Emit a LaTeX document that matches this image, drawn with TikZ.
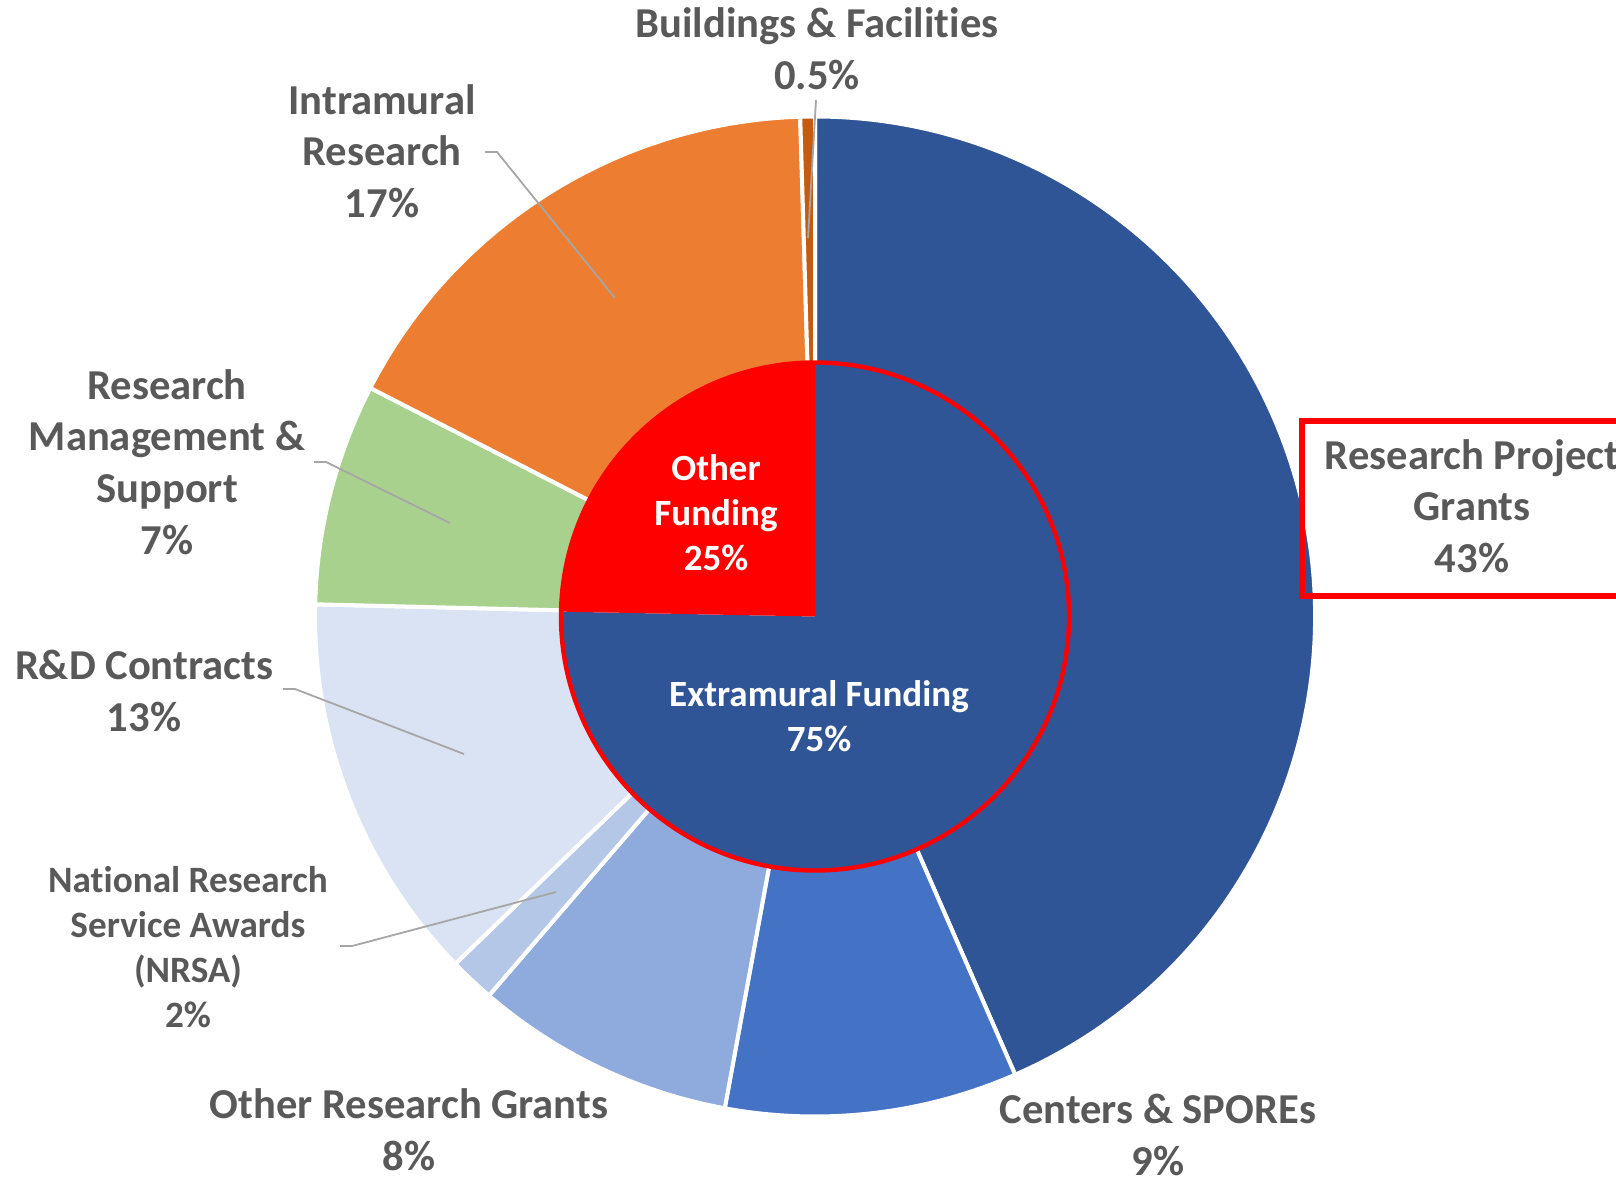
\documentclass[tikz,border=0pt]{standalone}
\usepackage{fontspec}
\setmainfont{Carlito}[Ligatures=NoCommon]
\definecolor{cRPG}{HTML}{2F5597}
\definecolor{cCen}{HTML}{4472C4}
\definecolor{cORG}{HTML}{8FAADC}
\definecolor{cNRSA}{HTML}{B4C7E7}
\definecolor{cRD}{HTML}{DAE3F3}
\definecolor{cRMS}{HTML}{A9D18E}
\definecolor{cIntra}{HTML}{ED7D31}
\definecolor{cBF}{HTML}{C55A11}
\definecolor{cOther}{HTML}{FF0000}
\definecolor{labelgray}{HTML}{595959}
\definecolor{leadgray}{HTML}{A6A6A6}
\newcommand\sunslice[4]{\fill[#1,draw=white,line width=2pt,line join=round,shift={(O)}] (0,0) -- (#2:#4) arc[start angle=#2,end angle=#3,radius=#4] -- cycle;}
\newcommand\corewedge[3]{\fill[#1,shift={(O)}] (0,0) -- (#2:254) arc[start angle=#2,end angle=#3,radius=254] -- cycle;}
\begin{document}
\begin{tikzpicture}[x=0.5pt,y=0.5pt,
  lbl/.style={text=labelgray,font=\bfseries\fontsize{21.3}{25.8}\selectfont,align=center,inner sep=0pt},
  smalllbl/.style={text=labelgray,font=\bfseries\fontsize{18.6}{22.6}\selectfont,align=center,inner sep=0pt},
  innerlbl/.style={text=white,font=\bfseries\fontsize{18.5}{22.5}\selectfont,align=center,inner sep=0pt},
  leader/.style={draw=leadgray,line width=0.9pt},
  hilite/.style={draw=cOther,line width=3pt}]
\useasboundingbox (0,0) rectangle (1616,-1177);
\coordinate (O) at (815,-616.5);
% outer ring
\sunslice{cRPG}{-66.4}{90}{500}
\sunslice{cCen}{-100.4}{-66.4}{500}
\sunslice{cORG}{-130.7}{-100.4}{500}
\sunslice{cNRSA}{-136.0}{-130.7}{500}
\sunslice{cRD}{178.6}{224.0}{500}
\sunslice{cRMS}{152.8}{178.6}{500}
\sunslice{cIntra}{91.7}{152.8}{500}
\sunslice{cBF}{90}{91.7}{500}
% inner pie
\corewedge{cRPG}{-181.1}{90}
\corewedge{cOther}{90}{178.9}
\draw[cOther,line width=2.2pt] (O) circle[radius=254];
% labels
\node[lbl] (tBF) at (817,-49) {Buildings \& Facilities\\0.5\%};
\node[lbl] (tIntra) at (382,-151) {Intramural\\Research\\17\%};
\node[lbl] (tRMS) at (167,-462) {Research\\Management \&\\Support\\7\%};
\node[lbl] (tRD) at (144,-691) {R\&D Contracts\\13\%};
\node[smalllbl] (tNRSA) at (188,-947) {National Research\\Service Awards\\(NRSA)\\2\%};
\node[lbl] (tORG) at (409,-1130) {Other Research Grants\\8\%};
\node[lbl] (tCen) at (1158,-1135) {Centers \& SPOREs\\9\%};
\node[lbl] (tRPG) at (1472,-506) {Research Project\\Grants\\43\%};
\node[innerlbl] (tOther) at (716,-513) {Other\\Funding\\25\%};
\node[innerlbl] (tExt) at (819,-716) {Extramural Funding\\75\%};
% highlight box
\draw[hilite] (1301.5,-421) rectangle (1700,-596);
% leader lines
\coordinate (bfA) at (816,-100);
\coordinate (bfB) at (808,-238);
\draw[leader] (bfA) -- (bfB);
\coordinate (inA) at (485,-152);
\coordinate (inB) at (497,-152);
\coordinate (inC) at (615,-298);
\draw[leader] (inA) -- (inB) -- (inC);
\coordinate (rmA) at (314,-462);
\coordinate (rmB) at (326,-462);
\coordinate (rmC) at (450,-523);
\draw[leader] (rmA) -- (rmB) -- (rmC);
\coordinate (rdA) at (283,-689);
\coordinate (rdB) at (295,-689);
\coordinate (rdC) at (464,-754);
\draw[leader] (rdA) -- (rdB) -- (rdC);
\coordinate (nrA) at (340,-946);
\coordinate (nrB) at (352,-946);
\coordinate (nrC) at (556,-892);
\draw[leader] (nrA) -- (nrB) -- (nrC);
\end{tikzpicture}
\end{document}
